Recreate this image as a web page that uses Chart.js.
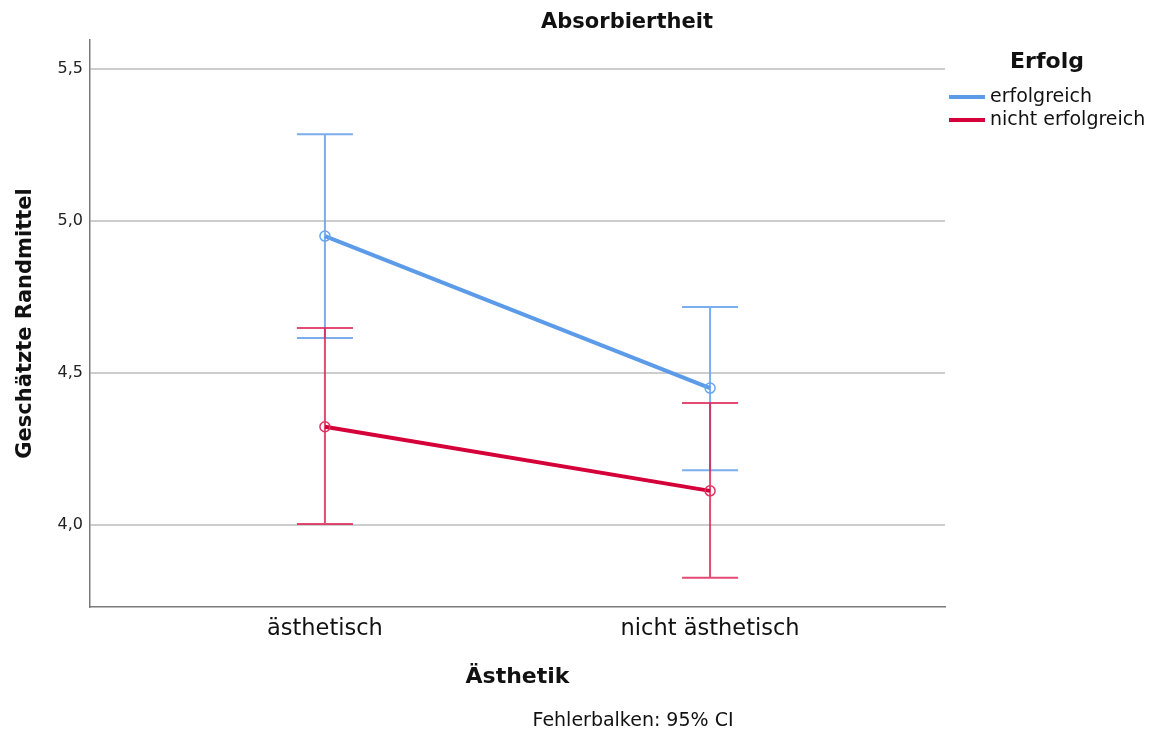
<!DOCTYPE html>
<html>
<head>
<meta charset="utf-8">
<script src="https://cdn.jsdelivr.net/npm/chart.js@4"></script>
<style>
  body { margin: 0; background: #fff; }
  #wrap { width: 1153px; height: 731px; }
</style>
</head>
<body>
<div id="wrap"><canvas id="chart"></canvas></div>
<script>
const categories = ["ästhetisch", "nicht ästhetisch"];
const erfolgreichMean = [4.95, 4.45];
const erfolgreichLower = [4.615, 4.18];
const erfolgreichUpper = [5.285, 4.717];
const nichtMean = [4.323, 4.112];
const nichtLower = [4.003, 3.826];
const nichtUpper = [4.648, 4.401];
const yTicks = [4.0, 4.5, 5.0, 5.5];

const FONT = "'DejaVu Sans', 'Noto Sans', sans-serif";

function points(values) {
    return values.map((v, i) => ({ x: i, y: v }));
}

// draws the 95% CI whiskers through the chart's scales
const errorBars = {
    id: "errorBars",
    beforeDatasetsDraw(chart) {
        const ctx = chart.ctx;
        const xs = chart.scales.x, ys = chart.scales.y;
        chart.data.datasets.forEach(ds => {
            ctx.save();
            ctx.strokeStyle = ds.errorColor;
            ctx.lineWidth = 2;
            ds.lower.forEach((lo, i) => {
                const x = xs.getPixelForValue(i);
                const y1 = ys.getPixelForValue(lo);
                const y2 = ys.getPixelForValue(ds.upper[i]);
                ctx.beginPath();
                ctx.moveTo(x, y1); ctx.lineTo(x, y2);
                ctx.moveTo(x - 28, y1); ctx.lineTo(x + 28, y1);
                ctx.moveTo(x - 28, y2); ctx.lineTo(x + 28, y2);
                ctx.stroke();
            });
            ctx.restore();
        });
    }
};

// title, legend and footer text
const decorations = {
    id: "decorations",
    afterDraw(chart) {
        const ctx = chart.ctx;
        ctx.save();
        ctx.fillStyle = "#111";
        ctx.textAlign = "center";
        ctx.textBaseline = "middle";
        ctx.font = "bold 21px " + FONT;
        ctx.fillText("Absorbiertheit", 627, 23);

        ctx.font = "bold 22px " + FONT;
        ctx.fillText("Erfolg", 1047, 62);

        ctx.textAlign = "left";
        ctx.font = "19px " + FONT;
        chart.data.datasets.forEach((ds, i) => {
            const y = 97 + i * 23;
            ctx.strokeStyle = ds.borderColor;
            ctx.lineWidth = 4;
            ctx.beginPath();
            ctx.moveTo(949, y); ctx.lineTo(985, y);
            ctx.stroke();
            ctx.fillText(ds.label, 990, y);
        });

        ctx.textAlign = "center";
        ctx.font = "19px " + FONT;
        ctx.fillText("Fehlerbalken: 95% CI", 633, 721);
        ctx.restore();
    }
};

new Chart(document.getElementById("chart"), {
    type: "line",
    data: {
        datasets: [{
            label: "erfolgreich",
            data: points(erfolgreichMean),
            lower: erfolgreichLower,
            upper: erfolgreichUpper,
            borderColor: "#5b9be8",
            errorColor: "rgba(100, 160, 235, 0.85)",
            borderWidth: 4,
            pointRadius: 5,
            pointBorderWidth: 1.5,
            pointBackgroundColor: "rgba(0,0,0,0)",
            pointBorderColor: "#6aa6ee"
        }, {
            label: "nicht erfolgreich",
            data: points(nichtMean),
            lower: nichtLower,
            upper: nichtUpper,
            borderColor: "#d5003a",
            errorColor: "rgba(220, 30, 80, 0.8)",
            borderWidth: 4,
            pointRadius: 5,
            pointBorderWidth: 1.5,
            pointBackgroundColor: "rgba(0,0,0,0)",
            pointBorderColor: "#e03060"
        }]
    },
    options: {
        responsive: true,
        maintainAspectRatio: false,
        animation: false,
        layout: { padding: { top: 40, right: 208, left: 0, bottom: 0 } },
        scales: {
            x: {
                type: "linear",
                min: -0.61,
                max: 1.61,
                afterFit: s => { s.height = 124; },
                afterBuildTicks: s => { s.ticks = categories.map((c, i) => ({ value: i })); },
                ticks: {
                    padding: 9,
                    color: "#111",
                    font: { family: FONT, size: 22.5 },
                    callback: v => categories[v]
                },
                grid: { color: "rgba(0,0,0,0)", drawTicks: false },
                border: { display: true, color: "#7a7a7a", width: 1.5 },
                title: {
                    display: true,
                    text: "Ästhetik",
                    color: "#111",
                    font: { family: FONT, size: 22, weight: "bold" },
                    padding: { bottom: 41 }
                }
            },
            y: {
                min: 3.73,
                max: 5.595,
                afterFit: s => { s.width = 90; },
                afterBuildTicks: s => { s.ticks = yTicks.map(v => ({ value: v })); },
                ticks: {
                    padding: 7,
                    color: "#222",
                    font: { family: FONT, size: 16 },
                    callback: v => v.toFixed(1).replace(".", ",")
                },
                grid: { color: "#cdcdcd", lineWidth: 2, drawTicks: false },
                border: { display: true, color: "#7a7a7a", width: 1.5 },
                title: {
                    display: true,
                    text: "Geschätzte Randmittel",
                    color: "#111",
                    font: { family: FONT, size: 21, weight: "bold" },
                    padding: { top: 13 }
                }
            }
        },
        plugins: {
            legend: { display: false },
            tooltip: { enabled: false }
        }
    },
    plugins: [errorBars, decorations]
});
</script>
</body>
</html>
